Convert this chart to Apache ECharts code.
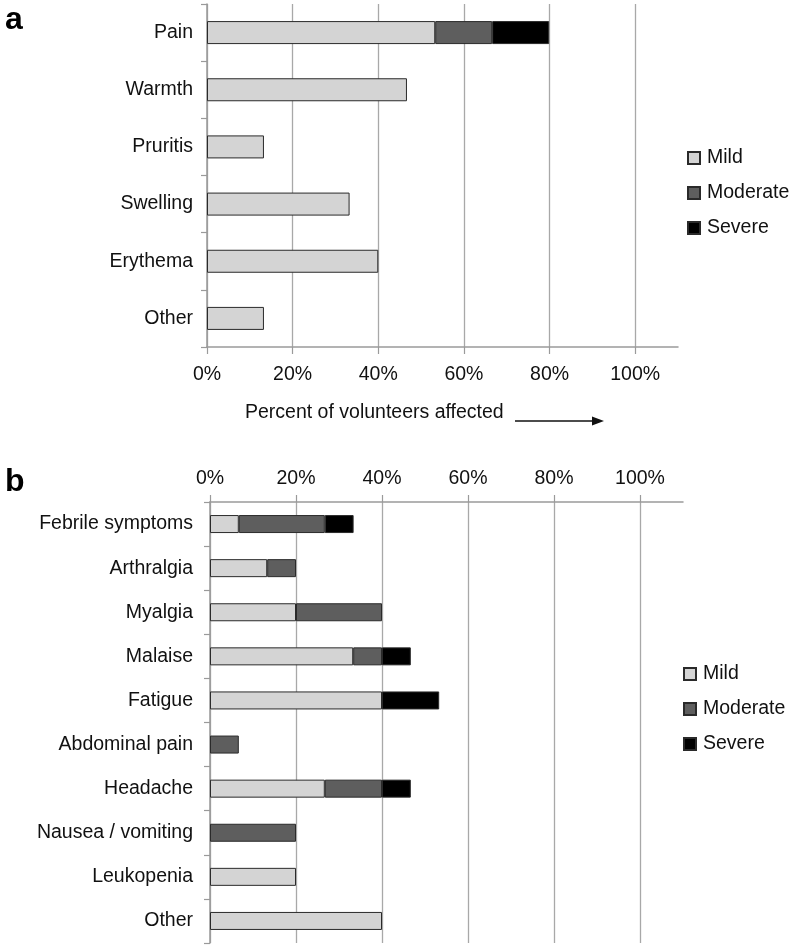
<!DOCTYPE html>
<html>
<head>
<meta charset="utf-8">
<script src="https://cdn.jsdelivr.net/npm/echarts@6/dist/echarts.min.js"></script>
<style>html,body{margin:0;padding:0;background:#fff}#c{width:789px;height:945px}</style>
</head>
<body>
<div id="c"></div>
<script>
// Panel a: local reactions
var catsA = ['Pain', 'Warmth', 'Pruritis', 'Swelling', 'Erythema', 'Other'];
var mildA = [53.3, 46.7, 13.3, 33.3, 40.0, 13.3];
var moderateA = [13.3, 0, 0, 0, 0, 0];
var severeA = [13.3, 0, 0, 0, 0, 0];

// Panel b: systemic reactions
var catsB = ['Febrile symptoms', 'Arthralgia', 'Myalgia', 'Malaise', 'Fatigue', 'Abdominal pain', 'Headache', 'Nausea / vomiting', 'Leukopenia', 'Other'];
var mildB = [6.7, 13.3, 20.0, 33.3, 40.0, 0, 26.7, 0, 20.0, 40.0];
var moderateB = [20.0, 6.7, 20.0, 6.7, 0, 6.7, 13.3, 20.0, 0, 0];
var severeB = [6.7, 0, 0, 6.7, 13.3, 0, 6.7, 0, 0, 0];

var tickValues = [0, 20, 40, 60, 80, 100];
var seriesNames = ['Mild', 'Moderate', 'Severe'];
var colors = ['#d4d4d4', '#5e5e5e', '#000000'];

function clean(arr) { return arr.map(function (v) { return v === 0 ? '-' : v; }); }

var FONT = '"Liberation Sans", Arial, Helvetica, sans-serif';
var txt = '#111';
var FS = 19.5;

function xAxisFor(idx, pos, labelMargin) {
  return {
    type: 'value', gridIndex: idx, position: pos, min: 0, max: 110,
    axisLine: { show: true, lineStyle: { color: '#9a9a9a', width: 1.5 } },
    axisTick: { show: true, length: 7, customValues: tickValues, lineStyle: { color: '#9a9a9a', width: 1.2 } },
    axisLabel: { customValues: tickValues, formatter: '{value}%', fontSize: FS, color: txt, fontFamily: FONT, margin: labelMargin },
    splitLine: { show: true, lineStyle: { color: '#a8a8a8', width: 1.3 } }
  };
}
function yAxisFor(idx, cats, labelMargin) {
  return {
    type: 'category', gridIndex: idx, data: cats, inverse: true,
    axisLine: { show: true, lineStyle: { color: '#9a9a9a', width: 1.5 } },
    axisTick: { show: true, length: 6, lineStyle: { color: '#9a9a9a', width: 1.2 } },
    axisLabel: { fontSize: FS, color: txt, fontFamily: FONT, margin: labelMargin },
    splitLine: { show: false }
  };
}

var series = [];
[[mildA, moderateA, severeA], [mildB, moderateB, severeB]].forEach(function (set, gi) {
  set.forEach(function (arr, si) {
    series.push({
      name: seriesNames[si], type: 'bar', stack: 'g' + gi,
      xAxisIndex: gi, yAxisIndex: gi,
      barWidth: gi === 0 ? 23 : 18,
      data: clean(arr),
      itemStyle: { color: colors[si], borderColor: '#2a2a2a', borderWidth: 1 },
      emphasis: { disabled: true }
    });
  });
});

function legendFor(top, left) {
  return {
    data: seriesNames, orient: 'vertical', left: left, top: top,
    icon: 'rect', itemWidth: 12, itemHeight: 12, itemGap: 15,
    textStyle: { fontSize: FS, color: txt, fontFamily: FONT, padding: [0, 0, 0, 2] },
    selectedMode: false
  };
}

var option = {
  animation: false,
  backgroundColor: '#fff',
  grid: [
    { left: 207, top: 4, width: 471, height: 343 },
    { left: 210, top: 502, width: 473, height: 441 }
  ],
  xAxis: [xAxisFor(0, 'bottom', 18), xAxisFor(1, 'top', 13)],
  yAxis: [yAxisFor(0, catsA, 14), yAxisFor(1, catsB, 17)],
  legend: [legendFor(143, 682), legendFor(659, 678)],
  series: series,
  graphic: [
    { type: 'text', left: 5, top: 4, style: { text: 'a', fontSize: 32, fontWeight: 'bold', fontFamily: FONT, fill: '#000' } },
    { type: 'text', left: 5, top: 466, style: { text: 'b', fontSize: 32, fontWeight: 'bold', fontFamily: FONT, fill: '#000' } },
    { type: 'text', left: 245, top: 403, style: { text: 'Percent of volunteers affected', fontSize: FS, fontFamily: FONT, fill: txt } },
    { type: 'line', shape: { x1: 515, y1: 421, x2: 594, y2: 421 }, style: { stroke: '#111', lineWidth: 1.3 } },
    { type: 'polygon', shape: { points: [[592, 416.5], [604, 421], [592, 425.5]] }, style: { fill: '#111' } }
  ]
};

var chart = echarts.init(document.getElementById('c'), null, { renderer: 'canvas' });
chart.setOption(option);
</script>
</body>
</html>
